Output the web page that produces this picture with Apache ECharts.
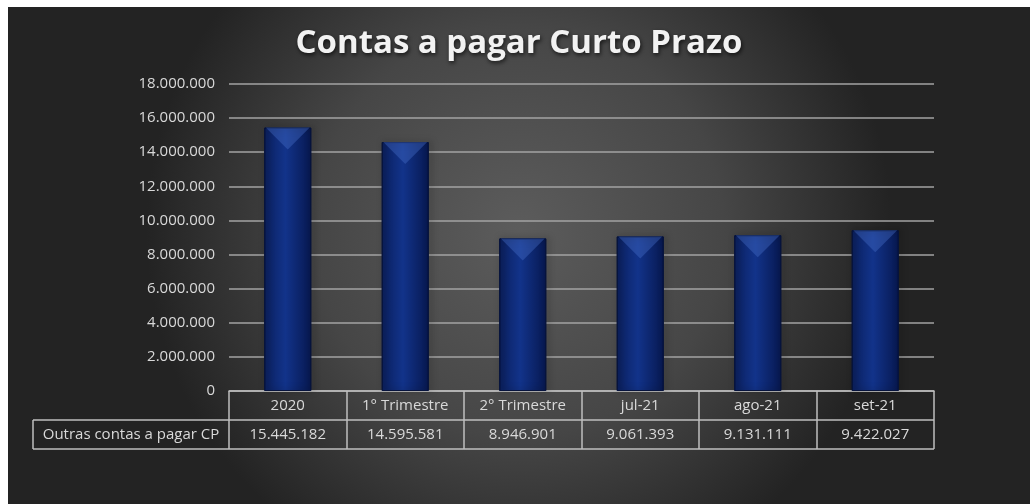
<!DOCTYPE html>
<html>
<head>
    <meta charset="utf-8">
    <title>Contas a pagar Curto Prazo</title>
    <script src="https://cdn.jsdelivr.net/npm/echarts@6/dist/echarts.min.js"></script>
    <style>
        html, body { margin: 0; padding: 0; background: #ffffff; }
        #main { position: absolute; left: 8px; top: 7px; width: 1022px; height: 497px; }
    </style>
</head>
<body>
<div id="main"></div>
<script type="text/javascript">
    // dados do gráfico
    var categorias = ['2020', '1° Trimestre', '2° Trimestre', 'jul-21', 'ago-21', 'set-21'];
    var valores = [15445182, 14595581, 8946901, 9061393, 9131111, 9422027];
    var nomeSerie = 'Outras contas a pagar CP';
    var yMax = 18000000;
    var yPasso = 2000000;

    function fmt(v) {
        return String(v).replace(/\B(?=(\d{3})+(?!\d))/g, '.');
    }

    var myChart = echarts.init(document.getElementById('main'));

    // posição do grid (coordenadas do div)
    var gLeft = 221, gRight = 96, gTop = 77, gBottom = 113;
    var W = 1022, H = 497;
    var axisY = H - gBottom;
    var linha = '#bfbfbf';
    var texto = '#d9d9d9';
    var fonte = '"Open Sans", Lato, sans-serif';

    var barCor = new echarts.graphic.LinearGradient(0, 0, 1, 0, [
        { offset: 0, color: '#0b205f' },
        { offset: 0.45, color: '#12338a' },
        { offset: 1, color: '#071850' }
    ]);

    var option = {
        backgroundColor: new echarts.graphic.RadialGradient(0.5, 0.45, 0.75, [
            { offset: 0, color: '#5c5c5c' },
            { offset: 0.55, color: '#464646' },
            { offset: 1, color: '#232323' }
        ]),
        textStyle: { fontFamily: fonte },
        title: {
            text: 'Contas a pagar Curto Prazo',
            left: 'center',
            top: 15,
            textStyle: {
                color: '#f2f2f2',
                fontSize: 33,
                fontWeight: 'bold',
                fontFamily: fonte,
                textShadowColor: 'rgba(0,0,0,0.7)',
                textShadowBlur: 4,
                textShadowOffsetX: 1,
                textShadowOffsetY: 2
            }
        },
        grid: { left: gLeft, right: gRight, top: gTop, bottom: gBottom, containLabel: false },
        xAxis: {
            type: 'category',
            data: categorias,
            axisLine: { show: true, lineStyle: { color: linha, width: 1.5 } },
            axisTick: { show: true, length: 58, lineStyle: { color: linha, width: 1.5 } },
            axisLabel: {
                margin: 0,
                interval: 0,
                formatter: function (v, i) {
                    return '{n|' + v + '}\n{v|' + fmt(valores[i]) + '}';
                },
                rich: {
                    n: { color: texto, fontSize: 15, lineHeight: 29, fontFamily: fonte },
                    v: { color: texto, fontSize: 15, lineHeight: 29, fontFamily: fonte }
                }
            }
        },
        yAxis: {
            type: 'value',
            min: 0,
            max: yMax,
            interval: yPasso,
            axisLine: { show: false },
            axisTick: { show: false },
            axisLabel: {
                color: texto,
                fontSize: 15,
                margin: 14,
                formatter: function (v) { return fmt(v); }
            },
            splitLine: { lineStyle: { color: '#a3a3a3', width: 1.5 } }
        },
        series: [
            {
                name: nomeSerie,
                type: 'bar',
                barWidth: '40%',
                data: valores,
                itemStyle: {
                    color: barCor,
                    borderColor: '#06133d',
                    borderWidth: 1,
                    shadowColor: 'rgba(0,0,0,0.5)',
                    shadowBlur: 6,
                    shadowOffsetX: 2
                },
                z: 2
            },
            {
                // chanfro do topo
                type: 'pictorialBar',
                data: valores,
                symbol: 'triangle',
                symbolRotate: 180,
                symbolSize: [44, 22],
                symbolPosition: 'end',
                symbolOffset: [0, 0],
                itemStyle: { color: 'rgba(70,110,200,0.4)' },
                silent: true,
                z: 3
            }
        ],
        graphic: [
            {
                type: 'line',
                shape: { x1: 25, y1: axisY + 29, x2: W - gRight, y2: axisY + 29 },
                style: { stroke: linha, lineWidth: 1.5 }
            },
            {
                type: 'line',
                shape: { x1: 25, y1: axisY + 58, x2: W - gRight, y2: axisY + 58 },
                style: { stroke: linha, lineWidth: 1.5 }
            },
            {
                type: 'line',
                shape: { x1: 25, y1: axisY + 29, x2: 25, y2: axisY + 58 },
                style: { stroke: linha, lineWidth: 1.5 }
            },
            {
                type: 'text',
                x: (25 + gLeft) / 2,
                y: axisY + 43.5,
                style: {
                    text: nomeSerie,
                    fill: texto,
                    font: '15px ' + fonte,
                    textAlign: 'center',
                    textVerticalAlign: 'middle'
                }
            }
        ]
    };

    myChart.setOption(option);
</script>
</body>
</html>
